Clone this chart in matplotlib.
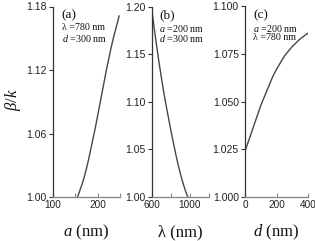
import matplotlib
matplotlib.use("Agg")
import matplotlib.pyplot as plt
from matplotlib.ticker import FixedLocator

# Panel (a): beta/k vs a (nm)
a_nm = [155, 160, 165, 170, 175, 180, 185, 190, 195, 200, 205, 210, 215, 220, 225, 230, 235, 240, 245, 248]
beta_a = [1.000, 1.006, 1.012, 1.019, 1.027, 1.036, 1.046, 1.056, 1.066, 1.077, 1.088, 1.099,
          1.110, 1.121, 1.131, 1.141, 1.150, 1.158, 1.166, 1.171]
# Panel (b): beta/k vs lambda (nm)
lam_nm = [600, 625, 650, 675, 700, 725, 750, 775, 800, 825, 850, 875, 900, 925, 950, 980]
beta_b = [1.195, 1.176, 1.158, 1.141, 1.125, 1.110, 1.096, 1.083, 1.070, 1.058, 1.046, 1.035,
          1.025, 1.016, 1.008, 1.000]
# Panel (c): beta/k vs d (nm)
d_nm = [0, 25, 50, 75, 100, 125, 150, 175, 200, 250, 300, 350, 400]
beta_c = [1.024, 1.030, 1.036, 1.042, 1.048, 1.053, 1.058, 1.063, 1.067, 1.074, 1.079, 1.083, 1.086]

W, H = 315, 241
fig = plt.figure(figsize=(W / 100, H / 100), dpi=100)

SERIF = "Liberation Serif"
SANS = "Liberation Sans"
LINE = "#3b4a52"

plt.rcParams["mathtext.fontset"] = "custom"
plt.rcParams["mathtext.rm"] = SERIF
plt.rcParams["mathtext.it"] = SERIF + ":italic"

def px_axes(left, right, top, bottom):
    return fig.add_axes([left / W, (H - bottom) / H, (right - left) / W, (bottom - top) / H])

panels = [
    dict(box=(53, 120, 6.5, 197), x=a_nm, y=beta_a, xlim=(100, 250), ylim=(1.00, 1.18),
         xmaj=[100, 200], xmin=[150, 250], yt=[1.00, 1.06, 1.12, 1.18], yfmt="{:.2f}",
         lab="(a)", l1="λ =780 nm", l2=r"$d$ =300 nm", xl=r"$a$ (nm)"),
    dict(box=(152, 208.5, 6.5, 197), x=lam_nm, y=beta_b, xlim=(600, 1200), ylim=(1.00, 1.20),
         xmaj=[600, 1000], xmin=[800, 1200], yt=[1.00, 1.05, 1.10, 1.15, 1.20], yfmt="{:.2f}",
         lab="(b)", l1=r"$a$ =200 nm", l2=r"$d$ =300 nm", xl="λ (nm)"),
    dict(box=(245, 308, 6.5, 197), x=d_nm, y=beta_c, xlim=(0, 400), ylim=(1.000, 1.100),
         xmaj=[0, 200, 400], xmin=[], yt=[1.000, 1.025, 1.050, 1.075, 1.100], yfmt="{:.3f}",
         lab="(c)", l1=r"$a$ =200 nm", l2="λ =780 nm", xl=r"$d$ (nm)"),
]

for p in panels:
    ax = px_axes(*p["box"])
    ax.plot(p["x"], p["y"], color=LINE, lw=1.0)
    ax.set_xlim(*p["xlim"])
    ax.set_ylim(*p["ylim"])
    for s in ("top", "right"):
        ax.spines[s].set_visible(False)
    ax.spines["left"].set_color("#333333")
    ax.spines["bottom"].set_color("#8a8a8a")
    ax.spines["left"].set_linewidth(0.9)
    ax.spines["bottom"].set_linewidth(1.0)
    ax.set_xticks(p["xmaj"])
    ax.set_xticklabels([str(v) for v in p["xmaj"]], fontfamily=SANS, fontsize=7.2, color="#222222")
    ax.xaxis.set_minor_locator(FixedLocator(p["xmin"]))
    ax.set_yticks(p["yt"])
    ax.set_yticklabels([p["yfmt"].format(v) for v in p["yt"]], fontfamily=SANS, fontsize=7.5, color="#222222")
    ax.tick_params(axis="x", which="both", direction="in", length=3, width=0.8, color="#8a8a8a", pad=2)
    ax.tick_params(axis="y", direction="out", length=3, width=0.8, color="#333333", pad=1.5)
    ax.text(0.13, 0.985, p["lab"], transform=ax.transAxes, fontfamily=SERIF, fontsize=9.5,
            va="top", ha="left", color="#111111")
    ax.text(0.13, 0.915, p["l1"], transform=ax.transAxes, fontfamily=SERIF, fontsize=7.2,
            va="top", ha="left", color="#111111")
    ax.text(0.13, 0.86, p["l2"], transform=ax.transAxes, fontfamily=SERIF, fontsize=7.2,
            va="top", ha="left", color="#111111")
    cx = (p["box"][0] + p["box"][1]) / 2
    fig.text(cx / W, (H - 232) / H, p["xl"], fontfamily=SERIF, fontsize=12,
             ha="center", va="center", color="#111111")

fig.text(13 / W, (H - 100) / H, r"$\beta/k$", fontfamily=SERIF, fontsize=12, rotation=90,
         ha="center", va="center", color="#111111")

fig.savefig("out.png", dpi=100)
